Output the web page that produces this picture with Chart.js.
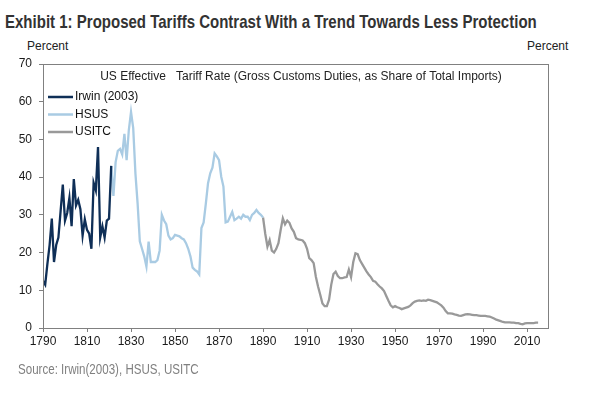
<!DOCTYPE html>
<html lang="en">
<head>
  <meta charset="UTF-8" />
  <title>Exhibit 1: Proposed Tariffs Contrast With a Trend Towards Less Protection</title>
  <style>
    * { box-sizing: border-box; margin: 0; padding: 0; }
    body { width: 598px; height: 402px; background: #fff; position: relative; overflow: hidden;
           font-family: 'Liberation Sans', Arial, sans-serif; }
    #title { position: absolute; left: 5px; top: 11px; font-weight: 700; font-size: 19px; color: #333;
             white-space: nowrap; transform-origin: 0 0; }
    .unit { position: absolute; top: 39px; font-size: 12px; color: #222; }
    #unitL { left: 27px; }
    #unitR { left: 527px; }
    #source { position: absolute; left: 18px; top: 361px; font-size: 14px; color: #808080;
              white-space: nowrap; transform-origin: 0 0; }
    canvas { position: absolute; left: 0; top: 0; }
  </style>
  <script src="https://cdn.jsdelivr.net/npm/chart.js"></script>
</head>
<body>
  <div id="title">Exhibit 1: Proposed Tariffs Contrast With a Trend Towards Less Protection</div>
  <div class="unit" id="unitL">Percent</div>
  <div class="unit" id="unitR">Percent</div>
  <canvas id="chart" width="598" height="402"></canvas>
  <div id="source">Source: Irwin(2003), HSUS, USITC</div>

  <script>
    const innerTitle = 'US Effective   Tariff Rate (Gross Customs Duties, as Share of Total Imports)';
    const xTicks = [1790, 1810, 1830, 1850, 1870, 1890, 1910, 1930, 1950, 1970, 1990, 2010];

    // Irwin (2003), annual from 1790
    const irwinStart = 1790;
    const irwinValues = [
      12.5, 11.5, 17, 22, 29, 17.5, 22, 24, 31, 38,
      28.5, 30.5, 34.5, 27, 39.5, 32.5, 34, 31.5, 24.5, 28.8,
      26, 25, 21, 38.5, 36.5, 48, 24, 27, 24, 28.5,
      29, 43
    ];

    // HSUS, annual from 1821
    const hsusStart = 1821;
    const hsusValues = [
      43, 35, 44, 47, 47.5, 46, 51.5, 44.5, 52.5, 57.3,
      53, 41, 33, 23, 21, 19, 16.3, 22.9, 17.5, 17.5,
      17.5, 18, 20.5, 30, 28.5, 27.5, 24.5, 23.5, 23.8, 24.7,
      24.5, 24.3, 23.8, 23.5, 22.5, 21, 19, 16, 15.4, 15,
      14.2, 26.5, 28, 33, 38.4, 41, 42.5, 46.3, 45.5, 44.5,
      40.1, 37.5, 28, 28.2, 29.5, 30.8, 28.6, 29, 29.5, 29,
      30, 29.5, 29.5, 28.6, 30, 30.5, 31.3, 30.5, 30, 29.3
    ];

    // USITC, annual from 1890
    const usitcStart = 1890;
    const usitcValues = [
      29.3, 25, 21.6, 23.3, 20.5, 20, 21, 22.5, 26, 29.1,
      27.5, 28.5, 27.9, 26.4, 25.5, 23.8, 23.5, 23.4, 23.2, 22.5,
      21, 18.5, 18, 17.2, 13.6, 11, 8.8, 6.5, 5.8, 5.8,
      7.5, 11.5, 14.3, 14.9, 13.8, 13.2, 13.2, 13.4, 13.5, 15.5,
      13.5, 17.5, 19.8, 19.6, 18, 17, 16, 15, 14.2, 13.5,
      12.5, 12.3, 11.6, 11, 10.5, 9.8, 8.5, 7.2, 6, 5.5,
      5.8, 5.5, 5.3, 5, 5.2, 5.4, 5.6, 6, 6.6, 7,
      7.2, 7.3, 7.2, 7.3, 7.2, 7.5, 7.4, 7.2, 7, 6.8,
      6.4, 6, 5.4, 4.5, 3.9, 3.9, 3.8, 3.6, 3.5, 3.3,
      3.2, 3.4, 3.6, 3.7, 3.6, 3.5, 3.4, 3.4, 3.3, 3.2,
      3.2, 3.2, 3.1, 3, 2.8, 2.5, 2.2, 2, 1.8, 1.6,
      1.5, 1.5, 1.5, 1.4, 1.4, 1.3, 1.3, 1.1, 1, 1.2,
      1.3, 1.3, 1.3, 1.3, 1.4, 1.4
    ];

    const toPoints = (start, values) => values.map((v, i) => ({ x: start + i, y: v }));

    // the original uses a condensed face; squeeze the regular one to the same width
    function fitWidth(id, target) {
      const el = document.getElementById(id);
      el.style.transform = 'scaleX(' + (target / el.offsetWidth) + ')';
    }
    fitWidth('title', 532);
    fitWidth('source', 181);

    const axisGray = '#808080';
    const tickFont = { family: "'Liberation Sans', Arial, sans-serif", size: 12 };

    // plot frame, inner title and legend drawn inside the chart area
    const framePlugin = {
      id: 'frame',
      afterDraw(chart) {
        const { ctx, chartArea: a } = chart;
        ctx.save();
        ctx.strokeStyle = axisGray;
        ctx.lineWidth = 1;
        ctx.strokeRect(Math.round(a.left) + 0.5, Math.round(a.top) + 0.5,
                       Math.round(a.right - a.left), Math.round(a.bottom - a.top));

        ctx.fillStyle = '#222';
        ctx.font = "12px 'Liberation Sans', Arial, sans-serif";
        ctx.textAlign = 'center';
        ctx.textBaseline = 'middle';
        ctx.fillText(innerTitle, 301, a.top + 13);

        ctx.textAlign = 'left';
        chart.data.datasets.forEach((ds, i) => {
          const y = a.top + 33 + i * 17.5;
          ctx.strokeStyle = ds.borderColor;
          ctx.lineWidth = 2.5;
          ctx.beginPath();
          ctx.moveTo(a.left + 5, y);
          ctx.lineTo(a.left + 30, y);
          ctx.stroke();
          ctx.fillStyle = '#111';
          ctx.fillText(ds.label, a.left + 32, y);
        });
        ctx.restore();
      }
    };

    const ctx = document.getElementById('chart').getContext('2d');
    new Chart(ctx, {
      type: 'line',
      data: {
        datasets: [
          { label: 'Irwin (2003)', data: toPoints(irwinStart, irwinValues), borderColor: '#0f2f57' },
          { label: 'HSUS', data: toPoints(hsusStart, hsusValues), borderColor: '#a9cbe3' },
          { label: 'USITC', data: toPoints(usitcStart, usitcValues), borderColor: '#999999' }
        ].map(ds => Object.assign(ds, { borderWidth: 2.3, pointRadius: 0, tension: 0, fill: false }))
      },
      options: {
        responsive: false,
        animation: false,
        layout: { padding: { left: 0, right: 50, top: 64, bottom: 54 } },
        plugins: { legend: { display: false }, title: { display: false }, tooltip: { enabled: false } },
        scales: {
          x: {
            type: 'linear',
            min: 1790,
            max: 2019.5,
            afterBuildTicks: scale => { scale.ticks = xTicks.map(v => ({ value: v })); },
            afterFit: scale => { scale.height = 20; },
            grid: { drawOnChartArea: false, drawTicks: true, tickLength: 4, color: axisGray },
            border: { color: axisGray },
            ticks: { font: tickFont, color: '#1a1a1a', padding: 2, maxRotation: 0, autoSkip: false,
                     callback: v => String(v) }
          },
          y: {
            min: 0,
            max: 70,
            afterFit: scale => { scale.width = 43; },
            grid: { drawOnChartArea: false, drawTicks: true, tickLength: 4, color: axisGray },
            border: { color: axisGray },
            ticks: { stepSize: 10, font: tickFont, color: '#1a1a1a', padding: 7 }
          }
        }
      },
      plugins: [framePlugin]
    });
  </script>
</body>
</html>
